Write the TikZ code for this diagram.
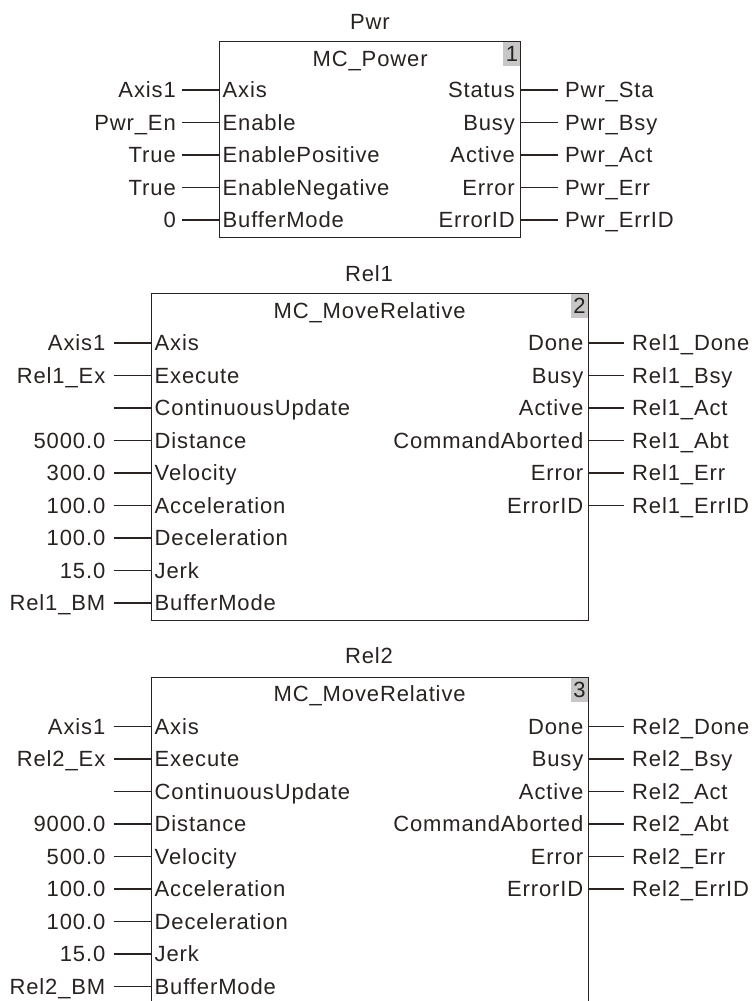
\documentclass[tikz,border=0pt]{standalone}
\usepackage{fontspec}
\setmainfont{Liberation Sans}[LetterSpace=4]
\usepackage{tikz}
\usetikzlibrary{positioning, calc}

\definecolor{ink}{RGB}{40,34,32}

\begin{document}
\begin{tikzpicture}[
  x=1pt, y=-1pt,
  font=\fontsize{22pt}{26pt}\selectfont,
  every node/.style={text=ink},
  txt/.style   ={inner sep=0pt, text height=15.8pt, text depth=0pt},
  fblock/.style={draw=ink, line width=1.3pt, inner sep=0pt},
  badge/.style ={txt, fill=black!22, minimum width=17pt, minimum height=24pt},
  wire/.style  ={draw=ink, line width=1.1pt},
]
\clip (0,0) rectangle (755,1001);

% --- Block 1: MC_Power ---
\node[txt] (pwr-title) at (370,22) {Pwr};
\node[fblock, anchor=north west, minimum width=301pt, minimum height=196pt] (pwr) at (219,41) {};
\node[txt] (pwr-hdr) at ([yshift=-17.5pt]pwr.north) {MC\_Power};
\node[badge, anchor=north east] (pwr-no) at ([xshift=-0.7pt,yshift=-0.7pt]pwr.north east) {1};
\foreach \lab/\pin [count=\i] in {Axis1/Axis, Pwr\_En/Enable, True/EnablePositive,
                                   True/EnableNegative, 0/BufferMode} {
  \node[txt, anchor=west] (pwr-p\i) at (222.5,{57.5+32.5*\i}) {\pin};
  \node[txt, anchor=east] (pwr-v\i) at (176,{57.5+32.5*\i}) {\lab};
  \draw[wire] ([xshift=6pt]pwr-v\i.east) -- (pwr-v\i -| pwr.west);
}
\foreach \pin/\lab [count=\i] in {Status/Pwr\_Sta, Busy/Pwr\_Bsy, Active/Pwr\_Act,
                                   Error/Pwr\_Err, ErrorID/Pwr\_ErrID} {
  \node[txt, anchor=east] (pwr-q\i) at (515,{57.5+32.5*\i}) {\pin};
  \node[txt, anchor=west] (pwr-w\i) at (565,{57.5+32.5*\i}) {\lab};
  \draw[wire] (pwr-w\i -| pwr.east) -- ([xshift=-7pt]pwr-w\i.west);
}

% --- Block 2: MC_MoveRelative (Rel1) ---
\node[txt] (rel1-title) at (369,274) {Rel1};
\node[fblock, anchor=north west, minimum width=437pt, minimum height=327pt] (rel1) at (150.5,293) {};
\node[txt] (rel1-hdr) at ([yshift=-18pt]rel1.north) {MC\_MoveRelative};
\node[badge, anchor=north east] (rel1-no) at ([xshift=-0.7pt,yshift=-0.7pt]rel1.north east) {2};
\foreach \lab/\pin [count=\i] in {Axis1/Axis, Rel1\_Ex/Execute, /ContinuousUpdate,
                                   5000.0/Distance, 300.0/Velocity, 100.0/Acceleration,
                                   100.0/Deceleration, 15.0/Jerk, Rel1\_BM/BufferMode} {
  \node[txt, anchor=west] (rel1-p\i) at (154.5,{310.5+32.5*\i}) {\pin};
  \node[txt, anchor=east] (rel1-v\i) at (105.5,{310.5+32.5*\i}) {\lab};
  \draw[wire] ([xshift=8.5pt]rel1-v\i.east) -- (rel1-v\i -| rel1.west);
}
\foreach \pin/\lab [count=\i] in {Done/Rel1\_Done, Busy/Rel1\_Bsy, Active/Rel1\_Act,
                                   CommandAborted/Rel1\_Abt, Error/Rel1\_Err, ErrorID/Rel1\_ErrID} {
  \node[txt, anchor=east] (rel1-q\i) at (583.5,{310.5+32.5*\i}) {\pin};
  \node[txt, anchor=west] (rel1-w\i) at (632,{310.5+32.5*\i}) {\lab};
  \draw[wire] (rel1-w\i -| rel1.east) -- ([xshift=-8pt]rel1-w\i.west);
}

% --- Block 3: MC_MoveRelative (Rel2), runs off the bottom ---
\node[txt] (rel2-title) at (369,656) {Rel2};
\node[fblock, anchor=north west, minimum width=437pt, minimum height=360pt] (rel2) at (150.5,677) {};
\node[txt] (rel2-hdr) at ([yshift=-17pt]rel2.north) {MC\_MoveRelative};
\node[badge, anchor=north east] (rel2-no) at ([xshift=-0.7pt,yshift=-0.7pt]rel2.north east) {3};
\foreach \lab/\pin [count=\i] in {Axis1/Axis, Rel2\_Ex/Execute, /ContinuousUpdate,
                                   9000.0/Distance, 500.0/Velocity, 100.0/Acceleration,
                                   100.0/Deceleration, 15.0/Jerk, Rel2\_BM/BufferMode} {
  \node[txt, anchor=west] (rel2-p\i) at (154.5,{694+32.5*\i}) {\pin};
  \node[txt, anchor=east] (rel2-v\i) at (105.5,{694+32.5*\i}) {\lab};
  \draw[wire] ([xshift=8.5pt]rel2-v\i.east) -- (rel2-v\i -| rel2.west);
}
\foreach \pin/\lab [count=\i] in {Done/Rel2\_Done, Busy/Rel2\_Bsy, Active/Rel2\_Act,
                                   CommandAborted/Rel2\_Abt, Error/Rel2\_Err, ErrorID/Rel2\_ErrID} {
  \node[txt, anchor=east] (rel2-q\i) at (583.5,{694+32.5*\i}) {\pin};
  \node[txt, anchor=west] (rel2-w\i) at (632,{694+32.5*\i}) {\lab};
  \draw[wire] (rel2-w\i -| rel2.east) -- ([xshift=-8pt]rel2-w\i.west);
}

\end{tikzpicture}
\end{document}
